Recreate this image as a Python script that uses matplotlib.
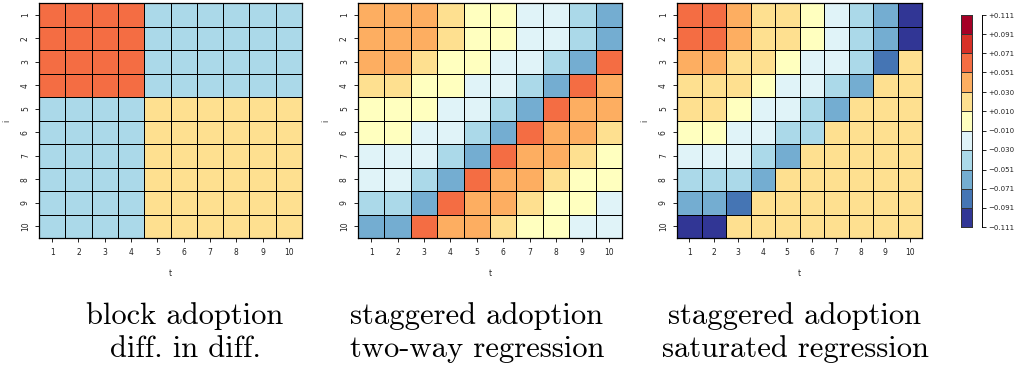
import matplotlib
matplotlib.use("Agg")
import matplotlib.pyplot as plt
import numpy as np
from matplotlib.colors import ListedColormap, BoundaryNorm

# weight grids: rows are units i = 1..10, columns are periods t = 1..10
periods = list(range(1, 11))
units = list(range(1, 11))

block_did = [
    [0.062, 0.062, 0.062, 0.062, -0.042, -0.042, -0.042, -0.042, -0.042, -0.042],
    [0.062, 0.062, 0.062, 0.062, -0.042, -0.042, -0.042, -0.042, -0.042, -0.042],
    [0.062, 0.062, 0.062, 0.062, -0.042, -0.042, -0.042, -0.042, -0.042, -0.042],
    [0.062, 0.062, 0.062, 0.062, -0.042, -0.042, -0.042, -0.042, -0.042, -0.042],
    [-0.042, -0.042, -0.042, -0.042, 0.028, 0.028, 0.028, 0.028, 0.028, 0.028],
    [-0.042, -0.042, -0.042, -0.042, 0.028, 0.028, 0.028, 0.028, 0.028, 0.028],
    [-0.042, -0.042, -0.042, -0.042, 0.028, 0.028, 0.028, 0.028, 0.028, 0.028],
    [-0.042, -0.042, -0.042, -0.042, 0.028, 0.028, 0.028, 0.028, 0.028, 0.028],
    [-0.042, -0.042, -0.042, -0.042, 0.028, 0.028, 0.028, 0.028, 0.028, 0.028],
    [-0.042, -0.042, -0.042, -0.042, 0.028, 0.028, 0.028, 0.028, 0.028, 0.028],
]

staggered_twfe = [
    [0.042, 0.038, 0.034, 0.022, 0.006, -0.004, -0.016, -0.026, -0.040, -0.058],
    [0.042, 0.038, 0.034, 0.022, 0.006, -0.004, -0.016, -0.026, -0.040, -0.058],
    [0.038, 0.034, 0.022, 0.006, -0.004, -0.016, -0.026, -0.040, -0.058, 0.062],
    [0.022, 0.020, 0.006, -0.004, -0.016, -0.026, -0.040, -0.058, 0.062, 0.042],
    [0.008, 0.004, 0.000, -0.014, -0.026, -0.040, -0.058, 0.062, 0.042, 0.038],
    [0.002, -0.004, -0.016, -0.026, -0.040, -0.058, 0.062, 0.042, 0.038, 0.022],
    [-0.012, -0.016, -0.024, -0.040, -0.058, 0.062, 0.042, 0.038, 0.022, 0.006],
    [-0.020, -0.024, -0.036, -0.058, 0.062, 0.042, 0.038, 0.022, 0.006, -0.002],
    [-0.034, -0.038, -0.058, 0.062, 0.042, 0.038, 0.022, 0.006, -0.004, -0.016],
    [-0.052, -0.056, 0.062, 0.042, 0.038, 0.022, 0.006, -0.004, -0.016, -0.026],
]

staggered_sat = [
    [0.060, 0.056, 0.040, 0.024, 0.016, 0.004, -0.018, -0.038, -0.062, -0.104],
    [0.060, 0.056, 0.040, 0.024, 0.016, 0.004, -0.018, -0.038, -0.062, -0.104],
    [0.040, 0.036, 0.024, 0.016, 0.004, -0.014, -0.024, -0.040, -0.082, 0.020],
    [0.024, 0.022, 0.016, 0.004, -0.014, -0.024, -0.040, -0.062, 0.020, 0.020],
    [0.018, 0.016, 0.004, -0.014, -0.024, -0.040, -0.062, 0.020, 0.020, 0.020],
    [0.004, 0.002, -0.014, -0.024, -0.040, -0.044, 0.020, 0.020, 0.020, 0.020],
    [-0.016, -0.018, -0.024, -0.040, -0.062, 0.020, 0.020, 0.020, 0.020, 0.020],
    [-0.036, -0.038, -0.040, -0.062, 0.020, 0.020, 0.020, 0.020, 0.020, 0.020],
    [-0.058, -0.062, -0.082, 0.020, 0.020, 0.020, 0.020, 0.020, 0.020, 0.020],
    [-0.102, -0.104, 0.020, 0.020, 0.020, 0.020, 0.020, 0.020, 0.020, 0.020],
]

levels = [-0.111, -0.091, -0.071, -0.051, -0.030, -0.010,
          0.010, 0.030, 0.051, 0.071, 0.091, 0.111]
level_labels = ["\u22120.111", "\u22120.091", "\u22120.071", "\u22120.051", "\u22120.030",
                "\u22120.010", "+0.010", "+0.030", "+0.051", "+0.071", "+0.091", "+0.111"]
palette = ['#313695', '#4575b4', '#74add1', '#abd9e9', '#e0f3f8', '#ffffbf',
           '#fee090', '#fdae61', '#f46d43', '#d73027', '#a50026']

captions = [
    ("block adoption", "diff. in diff."),
    ("staggered adoption", "two-way regression"),
    ("staggered adoption", "saturated regression"),
]

cmap = ListedColormap(palette)
norm = BoundaryNorm(levels, cmap.N)

W, H = 1018, 372
fig = plt.figure(figsize=(W / 100, H / 100), dpi=100)


def px_axes(x0, x1, y0, y1):
    return fig.add_axes([x0 / W, 1 - y1 / H, (x1 - x0) / W, (y1 - y0) / H])


def heat(ax, grid):
    z = np.array(grid)
    edges = np.arange(0.5, 11.5, 1.0)
    ax.pcolormesh(edges, edges, z, cmap=cmap, norm=norm,
                  edgecolors='black', linewidth=0.7)
    ax.set_xlim(0.5, 10.5)
    ax.set_ylim(10.5, 0.5)
    ax.set_xticks(periods)
    ax.set_yticks(units)
    ax.tick_params(direction='out', length=3, width=0.7, labelsize=5.5,
                   colors='#222222')
    ax.tick_params(axis='x', pad=4.5)
    ax.tick_params(axis='y', pad=3.5, labelrotation=90)
    for lbl in ax.get_yticklabels():
        lbl.set_verticalalignment('center')
    for s in ax.spines.values():
        s.set_linewidth(0.9)
    ax.set_xlabel('t', fontsize=5.5, labelpad=8.5, color='#222222')
    ax.set_ylabel('i', fontsize=5.5, labelpad=7, color='#222222')


panel_px = [(39, 302), (358, 622), (677, 922)]
grids = [block_did, staggered_twfe, staggered_sat]
for (x0, x1), grid in zip(panel_px, grids):
    heat(px_axes(x0, x1, 3, 238), grid)

# colour key
cax = px_axes(961, 972, 15, 227)
mids = np.array([(a + b) / 2 for a, b in zip(levels[:-1], levels[1:])]).reshape(-1, 1)
cax.pcolormesh([0, 1], levels, mids, cmap=cmap, norm=norm,
               edgecolors='#333333', linewidth=0.45, clip_on=False)
cax.set_xlim(0, 1)
cax.set_ylim(levels[0], levels[-1])
cax.set_xticks([])
for side in ('left', 'top', 'bottom'):
    cax.spines[side].set_visible(False)
cax.spines['right'].set_position(('outward', 7))
cax.spines['right'].set_linewidth(0.7)
cax.yaxis.tick_right()
cax.set_yticks(levels)
cax.set_yticklabels(level_labels)
cax.tick_params(axis='y', direction='out', length=3, width=0.7, labelsize=5,
                pad=2, colors='#222222')

# captions under each panel
centers = [185, 477, 795]
for cx, (top, bottom) in zip(centers, captions):
    fig.text(cx / W, 1 - 324 / H, top, ha='center', va='baseline',
             fontsize=22, family='cmr10')
    fig.text(cx / W, 1 - 357 / H, bottom, ha='center', va='baseline',
             fontsize=22, family='cmr10')

fig.savefig('out.png', dpi=100)
